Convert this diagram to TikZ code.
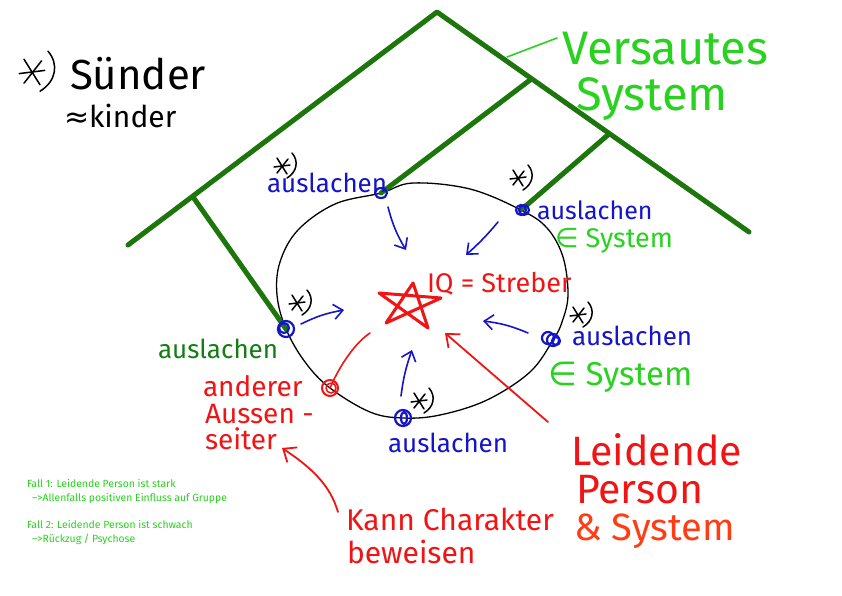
\documentclass[tikz,border=0pt]{standalone}
\usepackage{fontspec}
\setmainfont{Fira Sans}
\newfontfamily\symf{DejaVu Sans}
\newfontfamily\regf{Fira Sans}
\usetikzlibrary{arrows.meta}
\newcommand{\myfs}[1]{\fontsize{#1}{#1}\selectfont}
\definecolor{roofgreen}{RGB}{28,118,12}
\definecolor{brightgreen}{RGB}{40,210,30}
\definecolor{darkgreen}{RGB}{20,125,20}
\definecolor{penblue}{RGB}{20,20,200}
\definecolor{penred}{RGB}{240,20,20}
\definecolor{penorange}{RGB}{255,60,20}
\tikzset{
  roof/.style={draw=roofgreen, line width=5pt},
  lab/.style={anchor=base west, inner sep=0pt, outer sep=0pt},
  barrow/.style={draw=penblue, line width=1.6pt, -{Straight Barb[length=9pt,width=15pt]}},
  rarrow/.style={draw=penred, line width=1.8pt, -{Straight Barb[length=11pt,width=18pt]}},
  bmark/.style={draw=penblue, line width=2.2pt},
  astr/.pic={
    \draw[black, line width=1.5pt] (-8,1) -- (8,-1);
    \draw[black, line width=1.5pt] (-5,-8) -- (5,8);
    \draw[black, line width=1.5pt] (-5,7) -- (6,-7);
    \draw[black, line width=1.5pt] (10,-13) .. controls (17,-5) and (15,6) .. (5,12);
  }
}
\begin{document}
\begin{tikzpicture}[x=1pt,y=-1pt, line cap=round, line join=round]
\useasboundingbox (0,0) rectangle (842,595);
\fill[white] (0,0) rectangle (842,595);
% key points
\coordinate (apex) at (437,12);
\coordinate (eL) at (128,245);
\coordinate (eR) at (749,232);
\coordinate (sL) at (193,197);
\coordinate (sM) at (530,80);
\coordinate (sR) at (609,134);
\coordinate (mTL) at (381,193);
\coordinate (mTR) at (521,210);
\coordinate (mL) at (286,329);
\coordinate (mR) at (553,340);
\coordinate (mB) at (403,418);
\coordinate (mRed) at (330,388);
% group circle
\draw[black, line width=1.3pt] plot[smooth cycle, tension=0.6] coordinates {
 (413,183) (470,189) (521,210) (547,228) (563,257) (568,295) (562,322) (553,340)
 (530,372) (487,400) (440,415) (403,418) (370,412) (330,388) (305,362) (286,329)
 (277,295) (280,262) (298,230) (335,204) (381,193)};
% roof
\draw[roof] (eL) -- (apex) -- (eR);
\draw[roof] (sL) -- (mL);
\draw[roof] (sM) -- (mTL);
\draw[roof] (sR) -- (mTR);
% pointer to label
\coordinate (pv1) at (507,57);
\coordinate (pv2) at (557,38);
\draw[brightgreen, line width=1.6pt] (pv1) -- (pv2);
% markers
\draw[bmark] (mTL) ellipse (6 and 5);
\draw[bmark] (mTR) circle (5);
\draw[bmark] ([xshift=3pt]mTR) circle (5);
\draw[bmark] (mL) circle (8);
\draw[bmark] ([xshift=-2pt,yshift=1pt]mL) circle (5);
\draw[bmark] (mR) circle (6);
\draw[bmark] ([xshift=-5pt,yshift=2pt]mR) circle (6);
\draw[bmark] ([xshift=3pt,yshift=-1pt]mR) circle (4);
\draw[bmark] (mB) circle (8);
\draw[bmark] ([xshift=1pt]mB) ellipse (3 and 6);
\draw[penred, line width=2pt] (mRed) circle (8);
\draw[penred, line width=1.5pt] ([xshift=1pt]mRed) circle (5);
% asterisks
\pic at (282,166) {astr};
\pic at (518,178) {astr};
\pic at (297,303) {astr};
\pic at (578,315) {astr};
\pic at (419,401) {astr};
\pic[scale=1.6] at (32,72) {astr};
% blue arrows
\coordinate (a1s) at (388,207); \coordinate (a1e) at (406,250);
\coordinate (a2s) at (498,222); \coordinate (a2e) at (466,255);
\coordinate (a3s) at (301,324); \coordinate (a3e) at (344,310);
\coordinate (a4s) at (401,396); \coordinate (a4e) at (412,350);
\coordinate (a5s) at (528,333); \coordinate (a5e) at (483,321);
\draw[barrow] (a1s) to[bend right=8] (a1e);
\draw[barrow] (a2s) to[bend left=4] (a2e);
\draw[barrow] (a3s) to[bend left=8] (a3e);
\draw[barrow] (a4s) to[bend left=6] (a4e);
\draw[barrow] (a5s) to[bend right=8] (a5e);
% star
\coordinate (sT) at (413,283);
\coordinate (sRt) at (441,298);
\coordinate (sBR) at (428,328);
\coordinate (sBL) at (386,323);
\coordinate (sLt) at (379,293);
\draw[penred, line width=3pt] (sT) -- (sBR) -- (sLt) -- (sRt) -- (sBL) -- cycle;
% red lines
\coordinate (rc) at (370,333);
\draw[penred, line width=1.6pt] (mRed) .. controls (340,365) and (355,343) .. (rc);
\coordinate (lpS) at (548,422);
\coordinate (lpE) at (445,333);
\draw[rarrow] (lpS) -- (lpE);
\coordinate (kcS) at (338,512);
\coordinate (kcE) at (282,448);
\draw[rarrow] (kcS) .. controls (330,485) and (312,468) .. (kcE);
% texts
\node[lab, text=black, font=\myfs{42}] (tSuender) at (70,89) {Sünder};
\node[lab, text=black, font=\myfs{30}] (tKinder) at (64,127) {{\symf ≈}kinder};
\node[lab, text=brightgreen, font=\myfs{47}] (tVers) at (562,64) {Versautes};
\node[lab, text=brightgreen, font=\myfs{47}] (tSys) at (576,110) {System};
\node[lab, text=penblue, font=\myfs{26}] (tAusTL) at (267,192) {auslachen};
\node[lab, text=penblue, font=\myfs{25}] (tAusTR) at (537,219) {auslachen};
\node[lab, text=brightgreen, font=\myfs{27}] (tElTR) at (555,247) {{\symf ∈} System};
\node[lab, text=penblue, font=\myfs{26}] (tAusR) at (572,345) {auslachen};
\node[lab, text=brightgreen, font=\myfs{33}] (tElR) at (548,385) {{\symf ∈} System};
\node[lab, text=penblue, font=\myfs{26}] (tAusB) at (388,452) {auslachen};
\node[lab, text=darkgreen, font=\myfs{26}] (tAusL) at (158,358) {auslachen};
\node[lab, text=penred, font=\myfs{27}] (tIQ) at (427,292) {IQ = Streber};
\node[lab, text=penred, font=\myfs{28}] (tAnd1) at (203,396) {anderer};
\node[lab, text=penred, font=\myfs{28}] (tAnd2) at (205,423) {Aussen -};
\node[lab, text=penred, font=\myfs{28}] (tAnd3) at (205,449) {seiter};
\node[lab, text=penred, font=\myfs{30}] (tKann1) at (346,530) {Kann Charakter};
\node[lab, text=penred, font=\myfs{30}] (tKann2) at (347,563) {beweisen};
\node[lab, text=penred, font=\myfs{41}] (tLeid1) at (571,465) {Leidende};
\node[lab, text=penred, font=\myfs{41}] (tLeid2) at (576,503) {Person};
\node[lab, text=penorange, font=\myfs{38}] (tLeid3) at (574,540) {\& System};
\node[lab, text=brightgreen, font=\regf\myfs{10.4}] (tF1) at (27,487) {Fall 1: Leidende Person ist stark};
\node[lab, text=brightgreen, font=\regf\myfs{10.4}] (tF2) at (32,501) {–>Allenfalls positiven Einfluss auf Gruppe};
\node[lab, text=brightgreen, font=\regf\myfs{10.4}] (tF3) at (27,528) {Fall 2: Leidende Person ist schwach};
\node[lab, text=brightgreen, font=\regf\myfs{10.4}] (tF4) at (32,542) {–>Rückzug / Psychose};
\end{tikzpicture}
\end{document}
